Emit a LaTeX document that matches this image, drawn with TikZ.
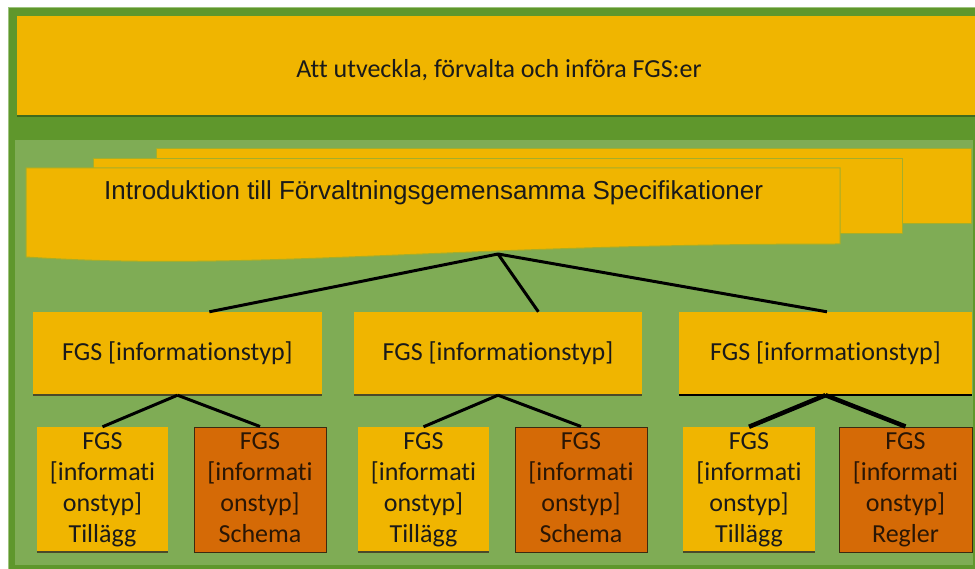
\documentclass[tikz,border=0pt]{standalone}
\usepackage{fontspec}
\setmainfont[Ligatures=NoCommon]{Carlito}
\newfontfamily\arialfont{Liberation Sans}
\usetikzlibrary{calc}

\definecolor{fgsyellow}{HTML}{F0B500}
\definecolor{fgsorange}{HTML}{D56A06}
\definecolor{darkgreen}{HTML}{5F972C}
\definecolor{lightgreen}{HTML}{7FAC55}
\definecolor{rimgreen}{HTML}{9DC47E}
\definecolor{oliveedge}{HTML}{A5AE2A}
\definecolor{bandshadow}{HTML}{3F6A1E}
\definecolor{boxshadow}{HTML}{4A4A2A}
\definecolor{orangeedge}{HTML}{3D2A10}
\definecolor{textdark}{HTML}{1A1A1A}
\definecolor{textbrown}{HTML}{2A1605}

\tikzset{
  bigfont/.style={font=\fontsize{26}{31}\selectfont},
  levelbox/.style={bigfont, fill=fgsyellow, inner sep=0pt, align=center, text=textdark},
  leafbox/.style={levelbox, text width=128pt},
  orangeleaf/.style={leafbox, fill=fgsorange, draw=orangeedge, line width=1pt, text=textbrown},
  pagesheet/.style={fill=fgsyellow, draw=oliveedge, line width=1pt},
  branch/.style={draw=black, line width=3pt},
  heavybranch/.style={draw=black, line width=4.5pt},
  shadowline/.style={draw=boxshadow, line width=1.5pt}
}

\begin{document}
\begin{tikzpicture}[x=1pt, y=-1pt]
\useasboundingbox (0,0) rectangle (975,569);
\fill[white] (0,0) rectangle (975,569);

% outer frame and top band
\filldraw[fill=darkgreen, draw=rimgreen, line width=1pt] (8,8) rectangle (976,570);
\fill[fgsyellow] (17,16) rectangle (975,115);
\draw[bandshadow, line width=2pt] (17,116) -- (975,116);
\node[bigfont, anchor=base, text=textdark] (title) at (499,78) {Att utveckla, förvalta och införa FGS:er};

% inner panel
\fill[lightgreen] (15,140) rectangle (973,565);

% stacked document sheets
\path[pagesheet] (156,149) rectangle (971,224);
\path[pagesheet] (93,159) rectangle (902,234);
\path[pagesheet] (26,168) -- (840,168) -- (840,244)
  .. controls (450,244) and (250,272) .. (26,257) -- cycle;
\node[font=\arialfont\fontsize{26}{31}\selectfont, anchor=base west, text=textdark, inner sep=0pt]
  (intro) at (104,200) {Introduktion till Förvaltningsgemensamma Specifikationer};
\coordinate (hub) at (498,254);

% second level
\node[levelbox, minimum width=289, minimum height=83] (b1) at (177.5,353.5) {FGS [informationstyp]};
\node[levelbox, minimum width=288, minimum height=83] (b2) at (498,353.5) {FGS [informationstyp]};
\node[levelbox, minimum width=293, minimum height=83] (b3) at (825.5,353.5) {FGS [informationstyp]};
\draw[shadowline] (b1.south west) -- (b1.south east);
\draw[shadowline] (b2.south west) -- (b2.south east);
\draw[black, line width=2pt] (b3.south west) -- (b3.south east);

% third level
\node[leafbox, minimum width=131, minimum height=125] (c1) at (102.5,489.5) {\strut FGS\\{[}informati\\onstyp]\\Tillägg\strut};
\node[orangeleaf, minimum width=132, minimum height=125] (c2) at (260,489.5) {\strut FGS\\{[}informati\\onstyp]\\Schema\strut};
\node[leafbox, minimum width=131, minimum height=125] (c3) at (423.5,489.5) {\strut FGS\\{[}informati\\onstyp]\\Tillägg\strut};
\node[orangeleaf, minimum width=132, minimum height=125] (c4) at (581,489.5) {\strut FGS\\{[}informati\\onstyp]\\Schema\strut};
\node[leafbox, minimum width=132, minimum height=125] (c5) at (749,489.5) {\strut FGS\\{[}informati\\onstyp]\\Tillägg\strut};
\node[orangeleaf, minimum width=133, minimum height=125] (c6) at (905.5,489.5) {\strut FGS\\{[}informati\\onstyp]\\Regler\strut};
\draw[shadowline] (c1.south west) -- (c1.south east);
\draw[shadowline] (c3.south west) -- (c3.south east);
\draw[shadowline] (c5.south west) -- (c5.south east);

% connectors
\draw[branch] (hub) -- ($(b1.north west)!0.61!(b1.north east)$);
\draw[branch] (hub) -- ($(b2.north west)!0.64!(b2.north east)$);
\draw[branch] (hub) -- ($(b3.north west)!0.505!(b3.north east)$);
\draw[branch] (b1.south) -- (c1.north);
\draw[branch] (b1.south) -- (c2.north);
\draw[branch] (b2.south) -- (c3.north);
\draw[branch] (b2.south) -- (c4.north);
\draw[heavybranch] (b3.south) -- (c5.north);
\draw[heavybranch] (b3.south) -- (c6.north);
\end{tikzpicture}
\end{document}
